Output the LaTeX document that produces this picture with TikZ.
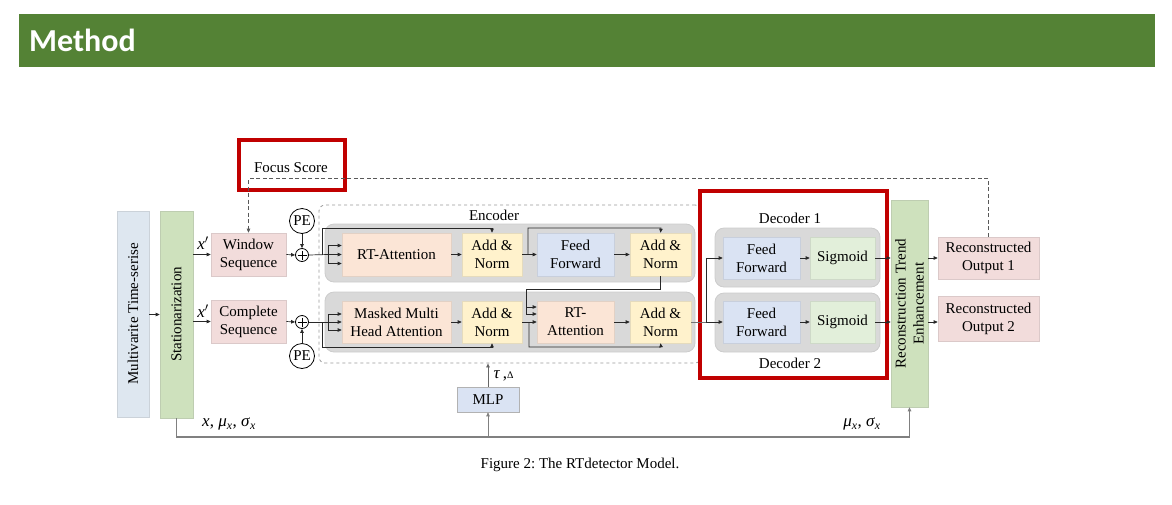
\documentclass[tikz,border=0pt]{standalone}
\usepackage{fontspec}
\setmainfont{Liberation Serif}
\newfontfamily\headfont{Carlito}
\usetikzlibrary{arrows.meta,calc}
\definecolor{headgreen}{RGB}{84,130,53}
\definecolor{cmulti}{RGB}{222,231,240}
\definecolor{cgreen}{RGB}{206,225,189}
\definecolor{cpink}{RGB}{242,220,219}
\definecolor{corange}{RGB}{251,229,214}
\definecolor{cyellow}{RGB}{255,242,204}
\definecolor{cblue}{RGB}{218,227,243}
\definecolor{csig}{RGB}{226,239,218}
\definecolor{cgrey}{RGB}{217,217,217}
\definecolor{cred}{RGB}{192,0,0}
\definecolor{cline}{RGB}{40,40,40}
\frenchspacing
\begin{document}
\begin{tikzpicture}[x=1pt,y=-1pt,
  txt/.style={font=\fontsize{15}{18}\selectfont},
  box/.style={txt,draw=#1!80!gray,fill=#1,inner sep=0pt,align=center,line width=0.6pt},
  greybox/.style={draw=black!20,fill=cgrey,rounded corners=9pt,inner sep=0pt,line width=0.8pt},
  redbox/.style={draw=cred,line width=4pt},
  ln/.style={draw=cline,line width=0.7pt},
  arr/.style={ln,-{Triangle[length=4pt,width=3.5pt]}},
  circ/.style={circle,draw=black,line width=0.8pt,inner sep=0pt,fill=white},
]
\useasboundingbox (0,0) rectangle (1172,504);
% header
\fill[headgreen] (19,14) rectangle (1155,67);
\node[anchor=base west,text=white,font=\headfont\bfseries\fontsize{32}{36}\selectfont,inner sep=0pt] (head) at (29,51) {Method};

% encoder dashed frame
\node[draw=black!40,dashed,rounded corners=6pt,line width=0.8pt,minimum width=382pt,minimum height=158pt,inner sep=0pt] (enc) at (510,284) {};
\node[txt] (enclab) at (494,215) {Encoder};
\node[greybox,minimum width=370pt,minimum height=58pt] (encT) at (510,253) {};
\node[greybox,minimum width=370pt,minimum height=60pt] (encB) at (510,322) {};

% decoders
\node[greybox,minimum width=165pt,minimum height=59pt] (dec1) at (797.5,257.5) {};
\node[greybox,minimum width=165pt,minimum height=59pt] (dec2) at (797.5,322.5) {};
\node[txt] (d1lab) at (790,218) {Decoder 1};
\node[txt] (d2lab) at (790,363) {Decoder 2};

% left column
\node[box=cmulti,minimum width=32pt,minimum height=206pt] (multi) at (133,314) {};
\node[txt,rotate=90] (multit) at (133,314) {Multivarite Time-serise};
\node[box=cgreen,minimum width=33pt,minimum height=207pt] (stat) at (176.5,314.5) {};
\node[txt,rotate=90] (statt) at (176.5,314.5) {Stationarization};
\node[box=cpink,minimum width=75pt,minimum height=43pt] (win) at (248.5,254.5) {Window\\Sequence};
\node[box=cpink,minimum width=75pt,minimum height=43pt] (comp) at (248.5,321.5) {Complete\\Sequence};
\node[font=\fontsize{17}{18}\selectfont] (xp1) at (203,243) {\textit{x}$'$};
\node[font=\fontsize{17}{18}\selectfont] (xp2) at (203,311) {\textit{x}$'$};

\node[circ,minimum size=13pt] (plusT) at (302,255) {};
\draw[line width=0.7pt] ($(plusT)+(-4.5,0)$) -- ($(plusT)+(4.5,0)$) ($(plusT)+(0,-4.5)$) -- ($(plusT)+(0,4.5)$);
\node[circ,minimum size=13pt] (plusB) at (302,322) {};
\draw[line width=0.7pt] ($(plusB)+(-4.5,0)$) -- ($(plusB)+(4.5,0)$) ($(plusB)+(0,-4.5)$) -- ($(plusB)+(0,4.5)$);
\node[circ,minimum size=25pt,txt] (peT) at (302,221) {PE};
\node[circ,minimum size=25pt,txt] (peB) at (302,356) {PE};

% encoder blocks
\node[box=corange,minimum width=109pt,minimum height=43pt] (rtaT) at (396.5,254.5) {RT-Attention};
\node[box=cyellow,minimum width=60pt,minimum height=43pt] (anT1) at (492,254.5) {Add \&\\Norm};
\node[box=cblue,minimum width=77pt,minimum height=43pt] (ffT) at (575.5,254.5) {Feed\\Forward};
\node[box=cyellow,minimum width=61pt,minimum height=43pt] (anT2) at (660.5,254.5) {Add \&\\Norm};
\node[box=corange,minimum width=109pt,minimum height=42pt] (mmha) at (396.5,322) {Masked Multi\\Head Attention};
\node[box=cyellow,minimum width=60pt,minimum height=42pt] (anB1) at (492,322) {Add \&\\Norm};
\node[box=corange,minimum width=77pt,minimum height=42pt] (rtaB) at (575.5,322) {RT-\\Attention};
\node[box=cyellow,minimum width=61pt,minimum height=42pt] (anB2) at (660.5,322) {Add \&\\Norm};

% decoder blocks
\node[box=cblue,minimum width=77pt,minimum height=42pt] (ffD1) at (761.5,258) {Feed\\Forward};
\node[box=csig,minimum width=65pt,minimum height=42pt] (sigD1) at (842.5,258) {Sigmoid};
\node[box=cblue,minimum width=77pt,minimum height=42pt] (ffD2) at (761.5,322) {Feed\\Forward};
\node[box=csig,minimum width=65pt,minimum height=42pt] (sigD2) at (842.5,322) {Sigmoid};

% right column
\node[box=cgreen,minimum width=37pt,minimum height=207pt] (rte) at (909.5,303.5) {};
\node[txt,rotate=90,align=center] (rtet) at (909.5,303.5) {Reconstruction Trend\\Enhancement};
\node[box=cpink,minimum width=101pt,minimum height=42pt] (out1) at (988.5,258) {Reconstructed\\Output 1};
\node[box=cpink,minimum width=101pt,minimum height=45pt] (out2) at (988.5,319) {Reconstructed\\Output 2};

% MLP
\node[box=cblue,draw=black!30,minimum width=62pt,minimum height=25pt] (mlp) at (488,399.5) {MLP};
\node[font=\fontsize{17}{18}\selectfont,anchor=west] (tau) at (490,376) {\textit{τ}\,,{\fontsize{10}{10}\selectfont Δ}};

% red highlight boxes
\draw[redbox] (239,140) rectangle (345,190);
\node[txt] (focus) at (291,168) {Focus Score};
\draw[redbox] (700,191) rectangle (887,378);

% connectors: left
\draw[arr] (multi.east |- stat.west) -- (stat.west);
\draw[arr] (stat.east |- win.west) -- (win.west);
\draw[arr] (stat.east |- comp.west) -- (comp.west);
\draw[arr] (win.east) -- (plusT.west);
\draw[arr] (comp.east) -- (plusB.west);
\draw[arr] (peT.south) -- (plusT.north);
\draw[arr] (peB.north) -- (plusB.south);

% encoder top
\coordinate (bT) at (328,254.5);
\coordinate (rT) at (322,254.5);
\draw[ln] (plusT.east) -- (bT);
\draw[arr] (bT) -- (rtaT.west);
\draw[arr] (bT) |- ($(rtaT.west)+(0,-9)$);
\draw[arr] (bT) |- ($(rtaT.west)+(0,9)$);
\draw[arr] (rT) |- (492,228) -- (anT1.north);
\draw[arr] (rtaT.east) -- (anT1.west);
\draw[arr] (anT1.east) -- (ffT.west);
\coordinate (rT2) at (528,254.5);
\draw[arr] (rT2) |- (661,228) -- (anT2.north);
\draw[arr] (ffT.east) -- (anT2.west);

% encoder bottom
\coordinate (bB) at (328,322);
\coordinate (rB) at (322,322);
\draw[ln] (plusB.east) -- (bB);
\draw[arr] (bB) -- (mmha.west);
\draw[arr] (bB) |- ($(mmha.west)+(0,-8)$);
\draw[arr] (bB) |- ($(mmha.west)+(0,8)$);
\draw[arr] (rB) |- (492,347) -- (anB1.south);
\draw[arr] (mmha.east) -- (anB1.west);
\draw[arr] (anB1.east) -- (rtaB.west);
\coordinate (kv) at (526,289);
\draw[ln] (anT2.south) -- (anT2.south |- kv) -- (kv) -- (526,314);
\draw[arr] (526,307) -- ($(rtaB.west)+(0,-15)$);
\draw[arr] (526,314) -- ($(rtaB.west)+(0,-8)$);
\coordinate (rB2) at (529,322);
\draw[arr] (rB2) |- (661,347) -- (anB2.south);
\draw[arr] (rtaB.east) -- (anB2.west);

% to decoders
\coordinate (dsplit) at (706,322);
\draw[ln,draw=black!55,line width=0.9pt] (anB2.east) -- (dsplit);
\draw[arr] (dsplit) -- (ffD2.west);
\draw[arr] (dsplit) |- (ffD1.west);
\draw[arr] (ffD1.east) -- (sigD1.west);
\draw[arr] (ffD2.east) -- (sigD2.west);
\draw[arr] (sigD1.east) -- (rte.west |- sigD1.east);
\draw[arr] (sigD2.east) -- (rte.west |- sigD2.east);
\draw[arr] (rte.east |- out1.west) -- (out1.west);
\draw[arr] (rte.east |- sigD2.east) -- (out2.west |- sigD2.east);

% focus score feedback
\draw[arr,draw=black!65,dash pattern=on 4pt off 2.5pt,line width=0.8pt] (out1.north) -- ++(0,-58) -| (win.north);

% bottom line
\coordinate (bm) at (488,437);
\draw[arr,draw=black!50,line width=1.1pt] (stat.south) |- (bm) -| (rte.south);
\draw[arr,draw=black!50] (bm) -- (mlp.south);
\draw[arr,draw=black!60] (mlp.north) -- (mlp.north |- enc.south);
\node[font=\fontsize{17}{18}\selectfont] (lab1) at (229,424) {\textit{x}, \textit{μ}\textsubscript{\textit{x}}, \textit{σ}\textsubscript{\textit{x}}};
\node[font=\fontsize{17}{18}\selectfont] (lab2) at (862,424) {\textit{μ}\textsubscript{\textit{x}}, \textit{σ}\textsubscript{\textit{x}}};

% caption
\node[txt] (cap) at (580,465) {Figure 2: The RTdetector Model.};
\end{tikzpicture}
\end{document}
